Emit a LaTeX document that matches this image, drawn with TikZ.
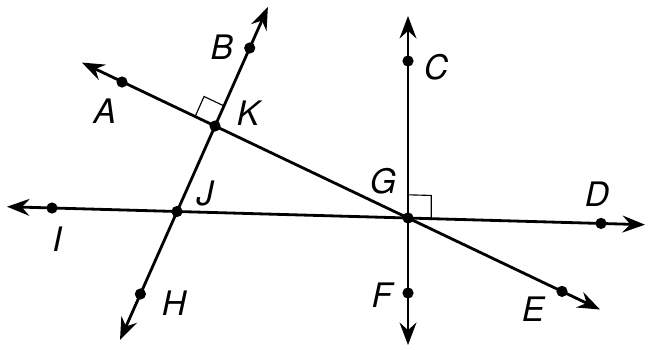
\documentclass[tikz,border=0pt]{standalone}
\usepackage{fontspec}
\setsansfont{TeX Gyre Heros}
\usepackage{tikz}
\usetikzlibrary{arrows.meta,calc}

\tikzset{
  geoline/.style={line width=2pt,
    {Stealth[length=16pt,width=12pt,inset=5.5pt]}-{Stealth[length=16pt,width=12pt,inset=5.5pt]}},
  ptlabel/.style={font=\fontsize{24}{28}\selectfont\sffamily\itshape, inner sep=0pt},
  rtmark/.style={line width=0.8pt},
}

\begin{document}
\begin{tikzpicture}[x=0.025cm, y=-0.025cm]
  \useasboundingbox (0,0) rectangle (648,349);

  %% Points
  \coordinate (A) at (122,82);
  \coordinate (B) at (249.7,48);
  \coordinate (C) at (408,61);
  \coordinate (D) at (601,223.4);
  \coordinate (E) at (562,291.4);
  \coordinate (F) at (408,293);
  \coordinate (G) at (408,218);
  \coordinate (H) at (140.4,294);
  \coordinate (I) at (52,208);
  \coordinate (J) at (177,211.5);
  \coordinate (K) at (215,126);

  %% Line ends
  \coordinate (aeL) at (82,62.6);
  \coordinate (aeR) at (600,309.5);
  \coordinate (bhT) at (267.9,7);
  \coordinate (bhB) at (120,340);
  \coordinate (idL) at (7,206.7);
  \coordinate (idR) at (645,224.7);
  \coordinate (cfT) at (408,16);
  \coordinate (cfB) at (408,345);

  %% Lines
  \draw[geoline] (aeL) -- (aeR);
  \draw[geoline] (bhT) -- (bhB);
  \draw[geoline] (idL) -- (idR);
  \draw[geoline] (cfT) -- (cfB);

  %% Right angle marks
  \coordinate (Ka) at ($(K)!0.55cm!(A)$);
  \coordinate (Kb) at ($(K)!0.55cm!(B)$);
  \draw[rtmark] (Ka) -- ($(Ka)+(Kb)-(K)$) -- (Kb);
  \coordinate (Gc) at ($(G)!0.58cm!(C)$);
  \coordinate (Gd) at ($(G)!0.58cm!(D)$);
  \draw[rtmark] (Gc) -- ($(Gc)+(Gd)-(G)$) -- (Gd);

  %% Dots
  \foreach \p in {A,B,C,D,E,F,G,H,I,J,K}
    \fill (\p) circle[radius=0.14cm];

  %% Labels
  \node[ptlabel] (labA) at (105,111) {A};
  \node[ptlabel] (labB) at (222,47) {B};
  \node[ptlabel] (labC) at (436,67) {C};
  \node[ptlabel] (labD) at (597,194) {D};
  \node[ptlabel] (labE) at (533,309) {E};
  \node[ptlabel] (labF) at (382,295) {F};
  \node[ptlabel] (labG) at (383,181) {G};
  \node[ptlabel] (labH) at (174,303) {H};
  \node[ptlabel] (labI) at (57,239) {I};
  \node[ptlabel] (labJ) at (205,193) {J};
  \node[ptlabel] (labK) at (248,113) {K};
\end{tikzpicture}
\end{document}
